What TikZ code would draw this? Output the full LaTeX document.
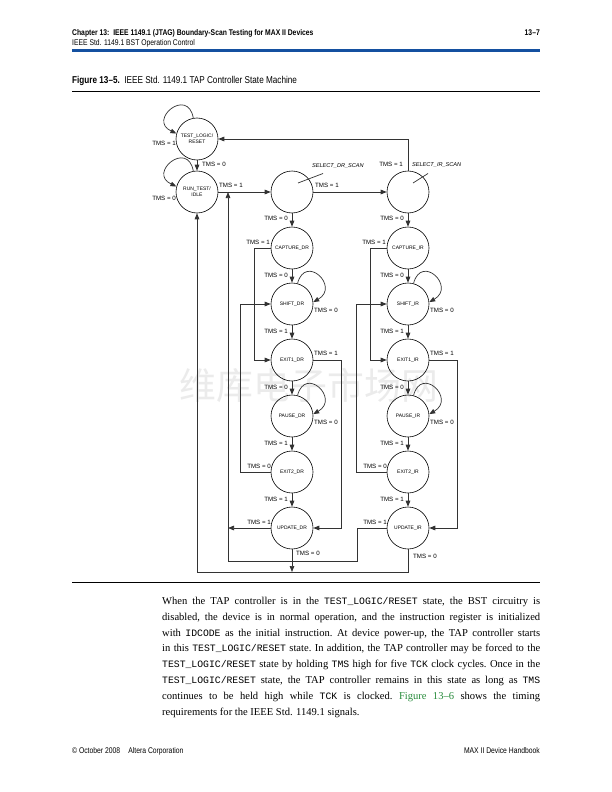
\documentclass[tikz,border=0pt]{standalone}
\usepackage{fontspec}
\usetikzlibrary{arrows.meta}
\setmainfont{Liberation Serif}
\setmonofont{Liberation Mono}
\newfontfamily\hv{Liberation Sans}
\newfontfamily\cond[FakeStretch=0.82]{Liberation Sans}
\newfontfamily\cjk{Noto Sans CJK SC}
\definecolor{hdrblue}{RGB}{20,80,160}
\definecolor{linkgreen}{RGB}{40,140,60}
\definecolor{wmgray}{gray}{0.92}
\newcommand\mycode[1]{{\fontsize{9.8}{12}\ttfamily #1}}
\newcommand\bodyline[2]{\node[anchor=base west,inner sep=0pt,font=\fontsize{10.6}{12}\selectfont] at (162,#1) {\frenchspacing\makebox[378bp][s]{#2}};}
\begin{document}
\begin{tikzpicture}[x=1bp,y=1bp,
 st/.style={circle,draw=black,line width=0.6bp,minimum size=42bp,inner sep=0pt,align=center,font=\hv\fontsize{5}{6}\selectfont},
 tr/.style={draw=black!80,line width=0.7bp,-{Triangle[length=6bp,width=4.6bp]}},
 ln/.style={draw=black!80,line width=0.7bp},
 tms/.style={font=\hv\fontsize{6.2}{7}\selectfont,inner sep=0pt},
 ital/.style={font=\hv\itshape\fontsize{5.6}{6.5}\selectfont,inner sep=0pt},
 hdr/.style={inner sep=0pt,font=\cond\fontsize{8.3}{9}\selectfont},
]
\useasboundingbox (0,0) rectangle (612,-792);
\fill[white] (0,0) rectangle (612,-792);

% watermark
\node[font=\cjk\fontsize{37}{37}\selectfont,text=wmgray] (wm) at (309,-385) {维库电子市场网};

% header
\node[hdr,anchor=base west,font=\cond\bfseries\fontsize{8.3}{9}\selectfont] (h1) at (72,-36) {Chapter 13:\ \ IEEE 1149.1 (JTAG) Boundary-Scan Testing for MAX II Devices};
\node[hdr,anchor=base east,font=\cond\bfseries\fontsize{8.3}{9}\selectfont] (h2) at (540,-36) {13–7};
\node[hdr,anchor=base west] (h3) at (72,-46) {IEEE Std. 1149.1 BST Operation Control};
\draw[hdrblue,line width=2.4bp] (72,-50.5) -- (540,-50.5);

% caption
\node[hdr,anchor=base west,font=\cond\fontsize{10}{11}\selectfont] (cap) at (72,-83) {\textbf{Figure 13–5.}\ \ IEEE Std. 1149.1 TAP Controller State Machine};
\draw[line width=0.9bp] (72,-91) -- (540,-91);
\draw[line width=0.9bp] (72,-582) -- (540,-582);

% states
\node[st] (tlr) at (197,-139) {TEST\_LOGIC/\\RESET};
\node[st] (rti) at (197,-192) {RUN\_TEST/\\IDLE};
\node[st] (selDR) at (292,-192) {};
\node[st] (selIR) at (408,-192) {};

\foreach \c/\x in {DR/292,IR/408} {
  \node[st] (cap\c) at (\x,-248) {CAPTURE\_\c};
  \node[st] (sh\c)  at (\x,-304) {SHIFT\_\c};
  \node[st] (exa\c) at (\x,-360) {EXIT1\_\c};
  \node[st] (pa\c)  at (\x,-416) {PAUSE\_\c};
  \node[st] (exb\c) at (\x,-472) {EXIT2\_\c};
  \node[st] (up\c)  at (\x,-528) {UPDATE\_\c};
  \draw[tr] (sel\c) -- (cap\c);
  \draw[tr] (cap\c) -- (sh\c);
  \draw[tr] (sh\c) -- (exa\c);
  \draw[tr] (exa\c) -- (pa\c);
  \draw[tr] (pa\c) -- (exb\c);
  \draw[tr] (exb\c) -- (up\c);
  \draw[tr] (cap\c.west) -- ++(-16,0) |- (exa\c.west);
  \draw[tr] (exb\c.west) -- ++(-30,0) |- (sh\c.west);
  \draw[tr] (exa\c.east) -- ++(28,0) |- (up\c.east);
  \draw[tr] (sh\c.75) .. controls +(75:31) and +(30:31) .. (sh\c.5);
  \draw[tr] (pa\c.75) .. controls +(75:31) and +(30:31) .. (pa\c.5);
  \node[tms,anchor=east] at (\x-4,-218) {TMS = 0};
  \node[tms,anchor=east] at (\x-22,-242) {TMS = 1};
  \node[tms,anchor=east] at (\x-4,-275) {TMS = 0};
  \node[tms,anchor=west] at (\x+22,-310) {TMS = 0};
  \node[tms,anchor=east] at (\x-4,-331) {TMS = 1};
  \node[tms,anchor=west] at (\x+22,-353) {TMS = 1};
  \node[tms,anchor=east] at (\x-4,-387) {TMS = 0};
  \node[tms,anchor=west] at (\x+22,-422) {TMS = 0};
  \node[tms,anchor=east] at (\x-4,-443) {TMS = 1};
  \node[tms,anchor=east] at (\x-21,-466) {TMS = 0};
  \node[tms,anchor=east] at (\x-4,-499) {TMS = 1};
  \node[tms,anchor=east] at (\x-21,-522) {TMS = 1};
}
\node[tms,anchor=west] at (296,-553) {TMS = 0};
\node[tms,anchor=west] at (413,-556) {TMS = 0};

% top transitions
\draw[tr] (tlr.100) .. controls +(100:32) and +(155:32) .. (tlr.165);
\draw[tr] (rti.100) .. controls +(100:32) and +(155:32) .. (rti.165);
\draw[tr] (tlr) -- (rti);
\draw[tr] (rti) -- (selDR);
\draw[tr] (selDR) -- (selIR);
\draw[tr] (selIR.north) |- (tlr.east);
\node[tms,anchor=east] at (176,-143) {TMS = 1};
\node[tms,anchor=west] at (202,-164) {TMS = 0};
\node[tms,anchor=east] at (176,-198) {TMS = 0};
\node[tms,anchor=west] at (219,-185) {TMS = 1};
\node[tms,anchor=west] at (315,-185) {TMS = 1};
\node[tms,anchor=east] at (403,-164) {TMS = 1};
\node[ital,anchor=west] (ldr) at (312,-166) {SELECT\_DR\_SCAN};
\node[ital,anchor=west] (lir) at (412,-165) {SELECT\_IR\_SCAN};
\coordinate (pdr) at (298,-183);
\coordinate (pir) at (413,-183);
\draw[ln] (323,-173.5) -- (pdr);
\draw[ln] (428,-173.5) -- (pir);

% return paths
\coordinate (ja) at (228,-528);
\coordinate (jb) at (228,-561);
\coordinate (jc) at (228,-192);
\coordinate (jd) at (197,-572);
\coordinate (je) at (292,-572);
\draw[tr] (upDR.west) -- (ja);
\draw[tr] (jb) -- (jc);
\draw[ln] (upIR.west) -- ++(-29,0) |- (jb);
\draw[tr] (upIR.south) |- (jd) -- (rti.south);
\draw[tr] (upDR.south) -- (je);

% body text
\bodyline{-604.5}{When the TAP controller is in the \mycode{TEST\_LOGIC/RESET} state, the BST circuitry is}
\bodyline{-620.3}{disabled, the device is in normal operation, and the instruction register is initialized}
\bodyline{-636.1}{with \mycode{IDCODE} as the initial instruction. At device power-up, the TAP controller starts}
\bodyline{-651.9}{in this \mycode{TEST\_LOGIC/RESET} state. In addition, the TAP controller may be forced to the}
\bodyline{-667.7}{\mycode{TEST\_LOGIC/RESET} state by holding \mycode{TMS} high for five \mycode{TCK} clock cycles. Once in the}
\bodyline{-683.5}{\mycode{TEST\_LOGIC/RESET} state, the TAP controller remains in this state as long as \mycode{TMS}}
\bodyline{-699.3}{continues to be held high while \mycode{TCK} is clocked. \textcolor{linkgreen}{Figure 13–6} shows the timing}
\node[anchor=base west,inner sep=0pt,font=\fontsize{10.6}{12}\selectfont] (b8) at (162,-715.1) {requirements for the IEEE Std. 1149.1 signals.};

% footer
\node[hdr,anchor=base west] (f1) at (72,-753) {© October 2008\quad Altera Corporation};
\node[hdr,anchor=base east] (f2) at (540,-753) {MAX II Device Handbook};
\end{tikzpicture}
\end{document}
